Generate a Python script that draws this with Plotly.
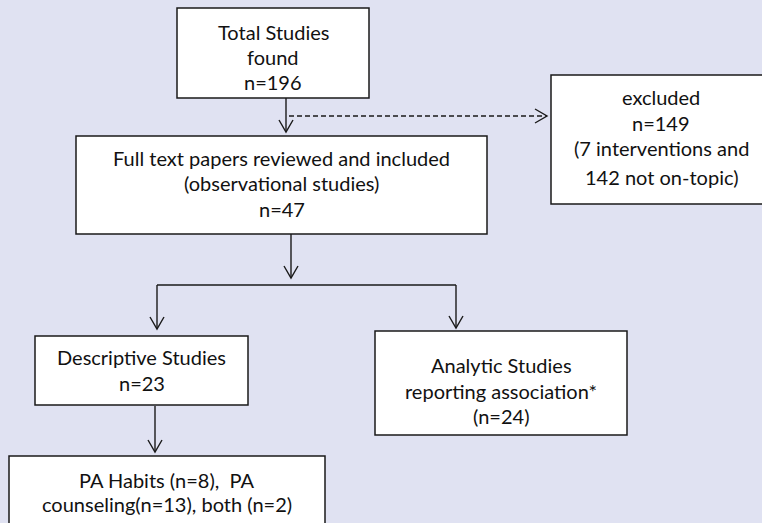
import plotly.graph_objects as go

# ---- data (counts and labels) ----
n_total = 196
n_excluded = 149
n_interventions = 7
n_offtopic = 142
n_included = 47
n_descriptive = 23
n_analytic = 24
n_habits = 8
n_counseling = 13
n_both = 2

total_lines = ["Total Studies", "found", f"n={n_total}"]
excluded_lines = ["excluded", f"n={n_excluded}", f"({n_interventions} interventions and",
                  f"{n_offtopic} not on-topic)"]
included_lines = ["Full text papers reviewed and included", "(observational studies)",
                  f"n={n_included}"]
descriptive_lines = ["Descriptive Studies", f"n={n_descriptive}"]
analytic_lines = ["Analytic Studies", "reporting association*", f"(n={n_analytic})"]
pa_lines = [f"PA Habits (n={n_habits}),  PA",
            f"counseling(n={n_counseling}), both (n={n_both})"]

# ---- layout geometry (pixel space, y downwards) ----
W, H = 762, 523
BG = "#E0E2F2"
LINE = "#1a1a1a"
FONT = dict(family="Lato, 'Open Sans', sans-serif", size=20, color="#111111")

boxes = [
    # (x0, y0, x1, y1, text lines, line y centres)
    (177, 8, 369, 98, total_lines, [32, 57, 82]),
    (551, 75, 771, 204, excluded_lines, [97, 123, 148, 177]),
    (76, 136, 487, 234, included_lines, [158, 183, 209]),
    (35, 336, 248, 405, descriptive_lines, [357, 383]),
    (375, 331, 627, 435, analytic_lines, [365, 391, 416]),
    (9, 456, 325, 540, pa_lines, [480, 504]),
]

# connectors: (x0, y0, x1, y1, dashed, arrowhead)
connectors = [
    (286, 98, 286, 132, False, True),
    (289, 116, 547, 116, True, True),
    (291, 234, 291, 278, False, True),
    (157, 285, 456, 285, False, False),
    (157, 285, 157, 329, False, True),
    (456, 285, 456, 328, False, True),
    (155, 406, 155, 452, False, True),
]

fig = go.Figure()
shapes = []
annotations = []

for x0, y0, x1, y1, lines, ys in boxes:
    shapes.append(dict(type="rect", xref="x", yref="y", x0=x0, y0=y0, x1=x1, y1=y1,
                       fillcolor="white", line=dict(color=LINE, width=1.5), layer="below"))
    cx = (x0 + x1) / 2
    for txt, yy in zip(lines, ys):
        annotations.append(dict(x=cx, y=yy, xref="x", yref="y", text=txt, showarrow=False,
                                font=FONT, xanchor="center", yanchor="middle"))

HL, HW = 12, 7
for x0, y0, x1, y1, dashed, head in connectors:
    shapes.append(dict(type="line", xref="x", yref="y", x0=x0, y0=y0, x1=x1, y1=y1,
                       line=dict(color=LINE, width=1.4, dash="5px,3px" if dashed else "solid")))
    if head:
        if x0 == x1:  # vertical, pointing down
            path = f"M {x1-HW},{y1-HL} L {x1},{y1} L {x1+HW},{y1-HL}"
        else:  # horizontal, pointing right
            path = f"M {x1-HL},{y1-HW} L {x1},{y1} L {x1-HL},{y1+HW}"
        shapes.append(dict(type="path", xref="x", yref="y", path=path,
                           line=dict(color=LINE, width=1.4)))

fig.update_layout(
    width=W, height=H,
    margin=dict(l=0, r=0, t=0, b=0),
    paper_bgcolor=BG, plot_bgcolor=BG,
    shapes=shapes, annotations=annotations,
    xaxis=dict(range=[0, W], visible=False, fixedrange=True),
    yaxis=dict(range=[H, 0], visible=False, fixedrange=True),
    showlegend=False,
)

fig.write_html("out.html", config={"displayModeBar": False},
               post_script="document.body.style.margin='0';document.body.style.background='" + BG + "';")
